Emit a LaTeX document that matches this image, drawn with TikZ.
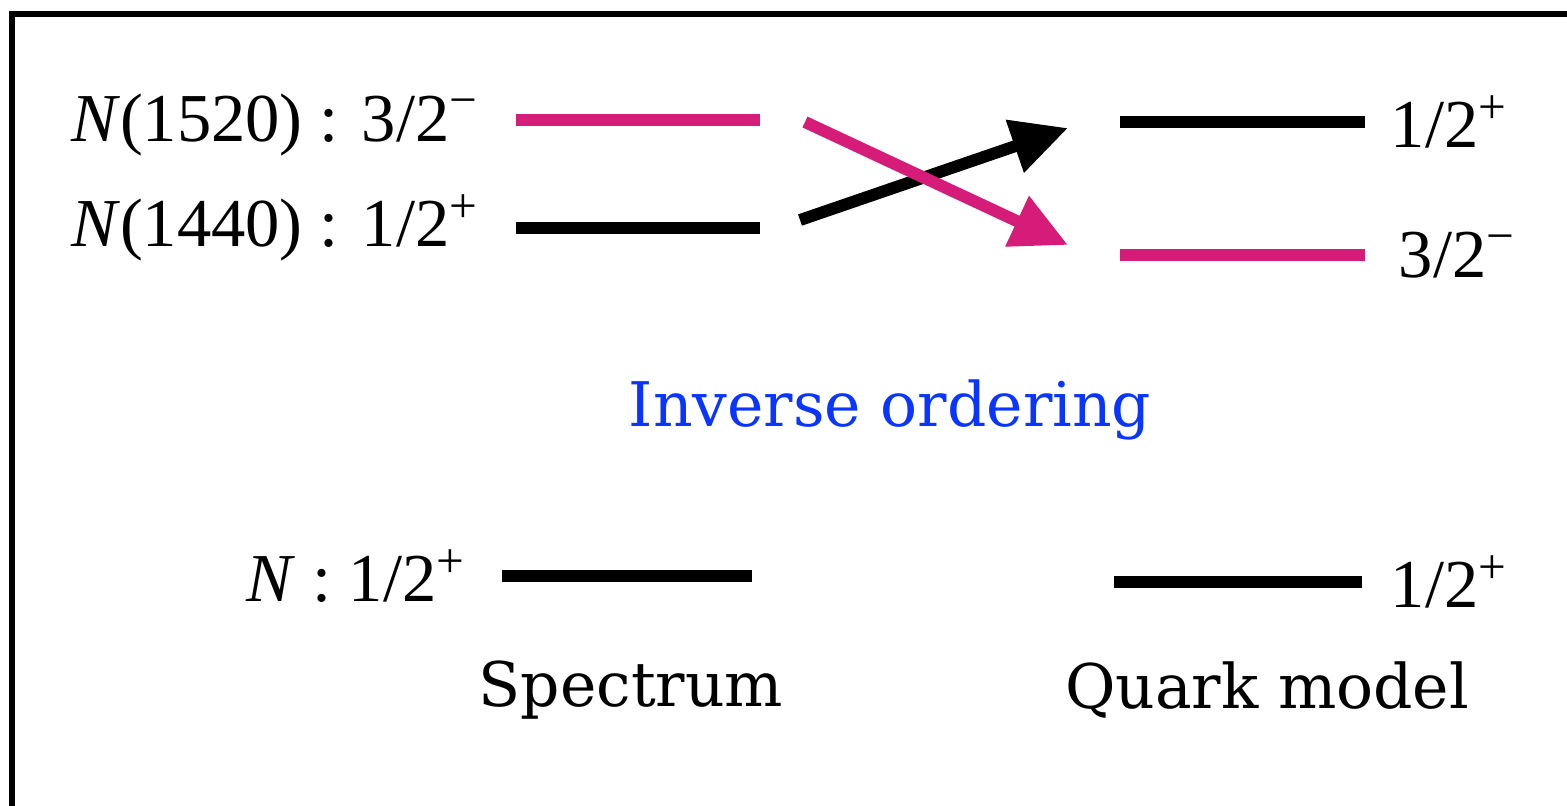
\documentclass[tikz,border=0pt]{standalone}
\usepackage{fontspec}
\setmainfont{Liberation Serif}
\newfontfamily\labfont{Liberation Serif}
\newfontfamily\slabfont{DejaVu Serif}
\usepackage{tikz}
\usetikzlibrary{arrows.meta,positioning,calc}
\definecolor{ordMag}{HTML}{D51C78}
\definecolor{ordBlue}{HTML}{0A35FF}
\newcommand{\Nuc}{\textit{N}}
\newcommand{\jp}[2]{#1\raisebox{7pt}{\fontsize{14}{14}\selectfont #2}}

\begin{document}
\begin{tikzpicture}[x=0.01cm,y=-0.01cm,
  lvl/.style={line width=3.4pt},
  arr/.style={line width=3.4pt,-{Triangle[length=16pt,width=15pt]}},
  lab/.style={inner sep=0pt,font=\labfont\fontsize{19.5}{22}\selectfont},
  captext/.style={inner sep=0pt,font=\slabfont\fontsize{17.5}{21}\selectfont},
  node distance=0.3cm]
  \useasboundingbox (0,0) rectangle (1567,805);
  \clip (0,0) rectangle (1567,805);
  \draw[line width=1.6pt] (12,14) rectangle (1620,860);
  % spectrum levels
  \coordinate (sa) at (516,120); \coordinate (sb) at (760,120);
  \coordinate (ra) at (516,228); \coordinate (rb) at (760,228);
  \coordinate (na) at (502,576); \coordinate (nb) at (752,576);
  % quark model levels
  \coordinate (qa) at (1120,122); \coordinate (qb) at (1365,122);
  \coordinate (ma) at (1120,255); \coordinate (mb) at (1365,255);
  \coordinate (ga) at (1114,582); \coordinate (gb) at (1362,582);
  \draw[lvl,ordMag] (sa)--(sb);
  \draw[lvl] (ra)--(rb);
  \draw[lvl] (na)--(nb);
  \draw[lvl] (qa)--(qb);
  \draw[lvl,ordMag] (ma)--(mb);
  \draw[lvl] (ga)--(gb);
  \node[lab,left=0.38cm of sa,yshift=-0.05cm] (ls) {\Nuc(1520) : \jp{3/2}{−}};
  \node[lab,left=0.38cm of ra] (lr) {\Nuc(1440) : \jp{1/2}{+}};
  \node[lab,left=0.37cm of na] (ln) {\Nuc\ : \jp{1/2}{+}};
  \node[lab,right=0.25cm of qb] (lq) {\jp{1/2}{+}};
  \node[lab,right=0.33cm of mb] (lm) {\jp{3/2}{−}};
  \node[lab,right=0.28cm of gb] (lg) {\jp{1/2}{+}};
  % crossing arrows
  \coordinate (xa) at (800,220); \coordinate (xb) at (1068,128);
  \coordinate (ya) at (805,122); \coordinate (yb) at (1068,245);
  \draw[arr] (xa)--(xb);
  \draw[arr,ordMag] (ya)--(yb);
  \node[captext,text=ordBlue] (inv) at (890,410) {Inverse ordering};
  \node[captext] (spec) at (631,690) {Spectrum};
  \node[captext] (qm) at (1267,690) {Quark model};
\end{tikzpicture}
\end{document}
